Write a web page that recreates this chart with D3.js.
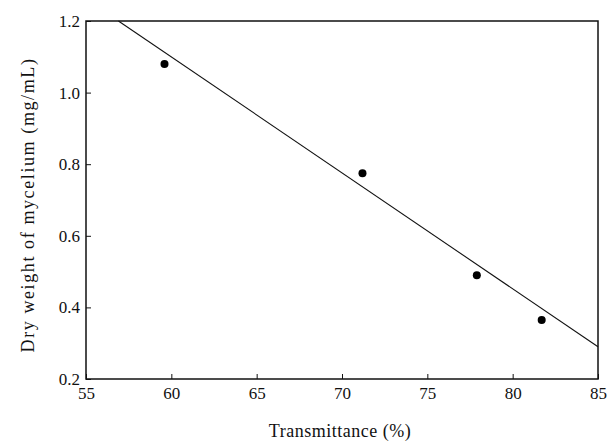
<!DOCTYPE html>
<html>
<head>
<meta charset="utf-8">
<script src="https://cdn.jsdelivr.net/npm/d3@7/dist/d3.min.js"></script>
<style>
body { margin: 0; background: #fff; }
svg { display: block; }
</style>
</head>
<body>
<svg id="chart" width="609" height="444"></svg>
<script>
// Data
const transmittance = [59.6, 71.2, 77.9, 81.7];
const dryWeight = [1.08, 0.775, 0.49, 0.365];
const fitX = [56.9, 85];
const fitY = [1.2, 0.29];
const xTicks = [55, 60, 65, 70, 75, 80, 85];
const yTicks = [0.2, 0.4, 0.6, 0.8, 1.0, 1.2];
const yTickLabels = ["0.2", "0.4", "0.6", "0.8", "1.0", "1.2"];
const xTitle = "Transmittance (%)";
const yTitle = "Dry weight of mycelium (mg/mL)";

const svg = d3.select("#chart");
const m = { left: 86, right: 11, top: 21, bottom: 65 };
const W = 609, H = 444;
const x = d3.scaleLinear().domain([55, 85]).range([m.left, W - m.right]);
const y = d3.scaleLinear().domain([0.2, 1.2]).range([H - m.bottom, m.top]);
const font = "'Liberation Serif', 'DejaVu Serif', serif";

// Frame
svg.append("rect")
  .attr("x", x(55)).attr("y", y(1.2))
  .attr("width", x(85) - x(55)).attr("height", y(0.2) - y(1.2))
  .attr("fill", "none").attr("stroke", "#111").attr("stroke-width", 1.5);

// Axes
const xAxis = d3.axisBottom(x).tickValues(xTicks).tickSize(-5).tickPadding(8).tickFormat(d3.format("d"));
const gx = svg.append("g").attr("transform", `translate(0,${y(0.2)})`).call(xAxis);
const yAxis = d3.axisLeft(y).tickValues(yTicks).tickSize(-5).tickPadding(6)
  .tickFormat((d, i) => yTickLabels[i]);
const gy = svg.append("g").attr("transform", `translate(${x(55)},0)`).call(yAxis);
[gx, gy].forEach(g => {
  g.select(".domain").remove();
  g.selectAll("line").attr("stroke", "#111").attr("stroke-width", 1);
  g.selectAll("text").attr("font-family", font).attr("font-size", 17).attr("fill", "#111");
});

// Fit line
svg.append("line")
  .attr("x1", x(fitX[0])).attr("y1", y(fitY[0]))
  .attr("x2", x(fitX[1])).attr("y2", y(fitY[1]))
  .attr("stroke", "#111").attr("stroke-width", 1.1);

// Points
svg.selectAll("circle.pt").data(transmittance).enter().append("circle")
  .attr("class", "pt")
  .attr("cx", d => x(d))
  .attr("cy", (d, i) => y(dryWeight[i]))
  .attr("r", 4).attr("fill", "#000");

// Titles
svg.append("text")
  .attr("x", 340).attr("y", 437)
  .attr("text-anchor", "middle")
  .attr("font-family", font).attr("font-size", 18).attr("letter-spacing", 0.5).attr("fill", "#111")
  .text(xTitle);
svg.append("text")
  .attr("transform", `translate(34,205) rotate(-90)`)
  .attr("text-anchor", "middle")
  .attr("font-family", font).attr("font-size", 18).attr("letter-spacing", 1.6).attr("fill", "#111")
  .text(yTitle);
</script>
</body>
</html>
